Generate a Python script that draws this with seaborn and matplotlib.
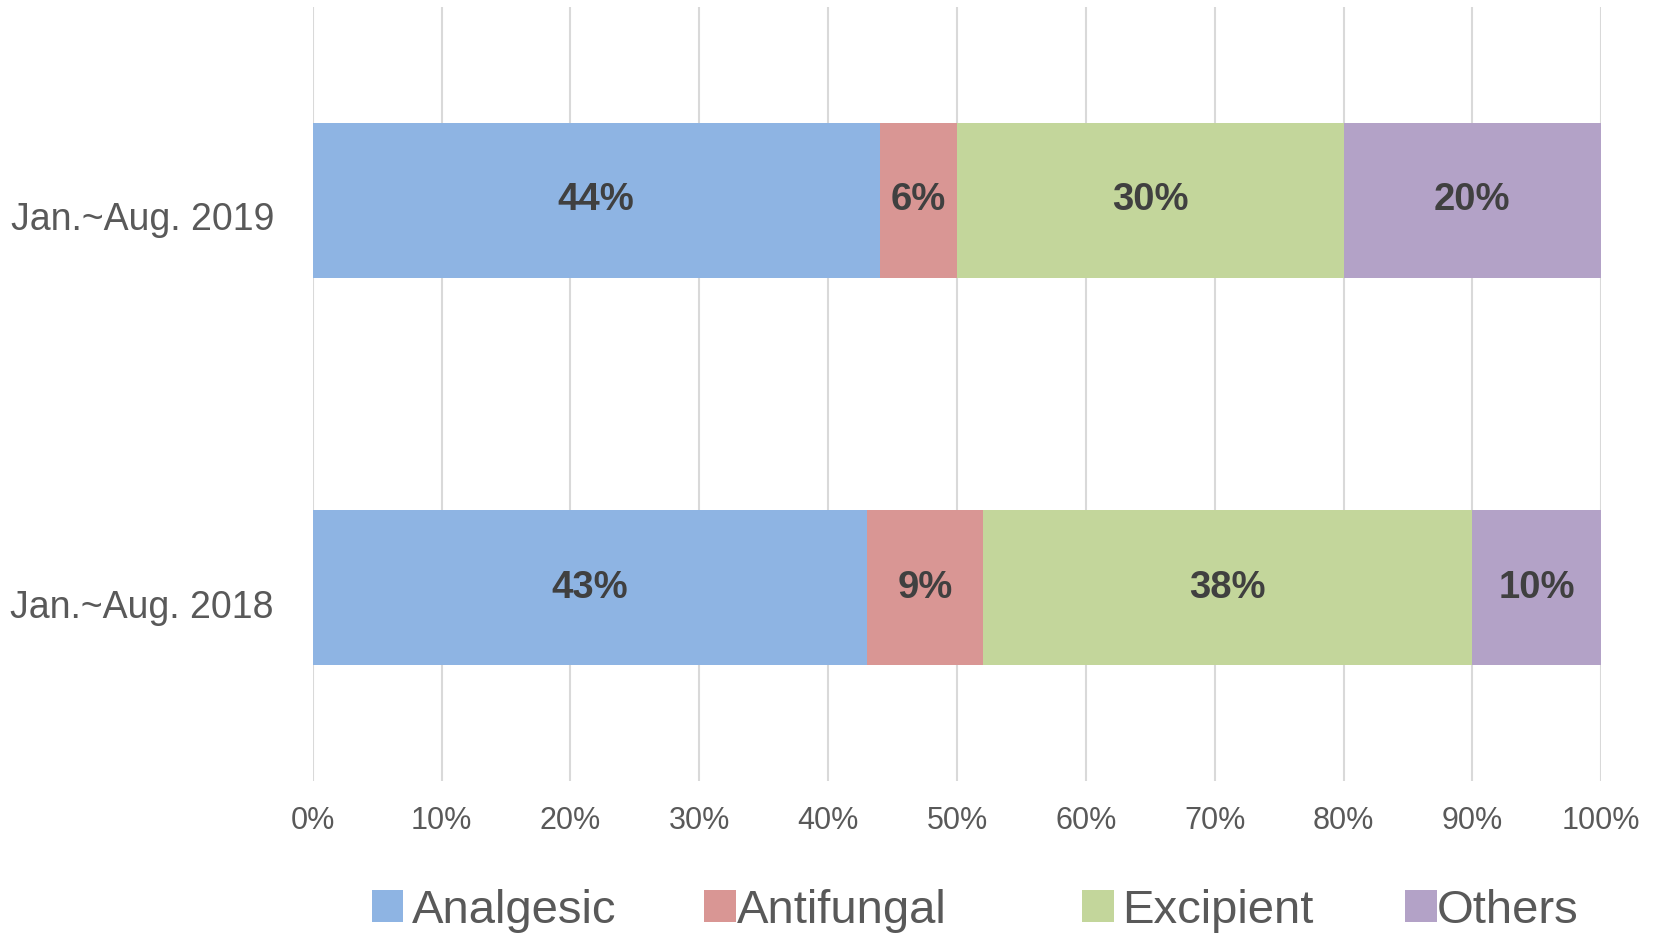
import matplotlib
matplotlib.use("Agg")
import matplotlib.pyplot as plt
import matplotlib.transforms as mtransforms
from matplotlib.patches import Patch
import seaborn as sns
import pandas as pd
import numpy as np

periods = ["Jan.~Aug. 2019", "Jan.~Aug. 2018"]
categories = ["Analgesic", "Antifungal", "Excipient", "Others"]
analgesic = [44, 43]
antifungal = [6, 9]
excipient = [30, 38]
others = [20, 10]
colors = ["#8EB4E3", "#D99694", "#C3D69B", "#B3A2C7"]
xticks = [0, 10, 20, 30, 40, 50, 60, 70, 80, 90, 100]

sns.set_theme(style="white")
plt.rcParams['font.family'] = ['Liberation Sans', 'DejaVu Sans']

series = [analgesic, antifungal, excipient, others]
vals = np.array(series, dtype=float)  # shape (4, 2)
cum = np.cumsum(vals, axis=0)

fig = plt.figure(figsize=(16.55, 9.38), dpi=100)
ax = fig.add_axes([0.189, 0.167, 0.9675 - 0.189, 0.993 - 0.167])

# draw cumulative bars from the largest down so they stack visually
for i in range(len(categories) - 1, -1, -1):
    df = pd.DataFrame({"period": periods, "value": cum[i]})
    sns.barplot(data=df, x="value", y="period", orient="h", order=periods,
                color=colors[i], saturation=1, width=0.4, ax=ax,
                linewidth=0, zorder=2)

# labels
for i in range(len(categories)):
    for j in range(len(periods)):
        left = cum[i][j] - vals[i][j]
        ax.text(left + vals[i][j] / 2, j, f"{int(vals[i][j])}%",
                ha="center", va="center", fontsize=27.5, fontweight="bold",
                color="#404040", zorder=4)

ax.set_xlim(0, 100)
ax.set_ylim(1.5, -0.5)
ax.set_xticks(xticks)
ax.set_xticklabels([f"{t}%" for t in xticks])
ax.set_xlabel("")
ax.set_ylabel("")
ax.grid(axis="x", color="#D9D9D9", linewidth=1.5, zorder=0)
ax.grid(axis="y", visible=False)
ax.set_axisbelow(True)
for s in ax.spines.values():
    s.set_visible(False)
ax.tick_params(axis="x", length=0, pad=18, labelsize=22, labelcolor="#595959")
ax.tick_params(axis="y", length=0, pad=28, labelsize=27, labelcolor="#595959")

offset = mtransforms.ScaledTranslation(0, -16 / 100, fig.dpi_scale_trans)
for lbl in ax.get_yticklabels():
    lbl.set_transform(lbl.get_transform() + offset)

# legend entries
leg_x = [0.2245, 0.4254, 0.6538, 0.849]
leg_pad = [0.18, 0.03, 0.18, 0.01]
for name, col, lx, tp in zip(categories, colors, leg_x, leg_pad):
    leg = fig.legend(handles=[Patch(facecolor=col, edgecolor="none", label=name)],
                     loc="center left", bbox_to_anchor=(lx, 0.029),
                     frameon=False, fontsize=34, borderpad=0, borderaxespad=0,
                     handlelength=0.67, handleheight=0.67, handletextpad=tp)
    for t in leg.get_texts():
        t.set_color("#595959")

fig.savefig("out.png", dpi=100)
